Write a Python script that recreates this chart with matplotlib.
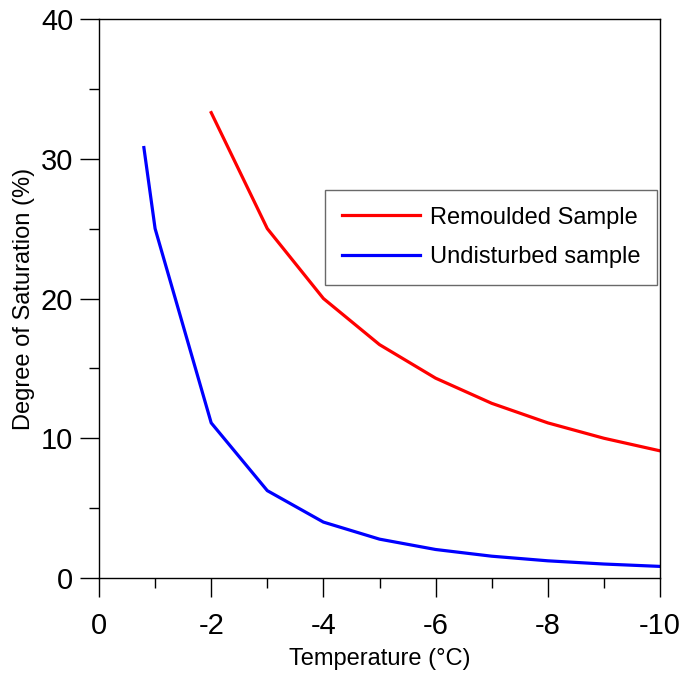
import matplotlib
matplotlib.use("Agg")
import matplotlib.pyplot as plt
from matplotlib.ticker import MultipleLocator, FixedLocator

plt.rcParams['font.family'] = ['Liberation Sans', 'DejaVu Sans']
plt.rcParams['axes.unicode_minus'] = False

# data
temp_remoulded = [-2, -3, -4, -5, -6, -7, -8, -9, -10]
sat_remoulded = [33.3, 25.0, 20.0, 16.7, 14.3, 12.5, 11.1, 10.0, 9.1]

temp_undisturbed = [-0.8, -1, -2, -3, -4, -5, -6, -7, -8, -9, -10]
sat_undisturbed = [30.8, 25.0, 11.1, 6.25, 4.0, 2.78, 2.04, 1.56, 1.23, 1.0, 0.83]

x_ticks = [0, -2, -4, -6, -8, -10]
y_ticks = [0, 10, 20, 30, 40]

fig = plt.figure(figsize=(6.81, 6.77), dpi=100)
ax = fig.add_axes([99 / 681, 1 - 578 / 677, 561 / 681, 559 / 677])

ax.plot(temp_remoulded, sat_remoulded, color="#ff0000", lw=2.3, label="Remoulded Sample")
ax.plot(temp_undisturbed, sat_undisturbed, color="#0000ff", lw=2.3, label="Undisturbed sample")

ax.set_xlim(0, -10)
ax.set_ylim(0, 40)
ax.xaxis.set_major_locator(FixedLocator(x_ticks))
ax.xaxis.set_minor_locator(MultipleLocator(1))
ax.yaxis.set_major_locator(FixedLocator(y_ticks))
ax.yaxis.set_minor_locator(MultipleLocator(5))

ax.tick_params(which="major", direction="out", length=13.5, width=1, labelsize=21)
ax.tick_params(which="minor", direction="out", length=7, width=1)
ax.tick_params(axis="x", which="major", pad=11)
ax.tick_params(axis="y", which="major", pad=5)
for s in ax.spines.values():
    s.set_linewidth(1)

ax.set_xlabel("Temperature (°C)", fontsize=17, labelpad=6)
ax.set_ylabel("Degree of Saturation (%)", fontsize=17, labelpad=4)

ax.legend(loc="upper right", bbox_to_anchor=(0.995, 0.694), fontsize=17, frameon=True,
          fancybox=False, edgecolor="#444444", handlelength=3.3, handletextpad=0.45,
          borderpad=0.7, labelspacing=0.75, borderaxespad=0)

fig.savefig("out.png", dpi=100)
